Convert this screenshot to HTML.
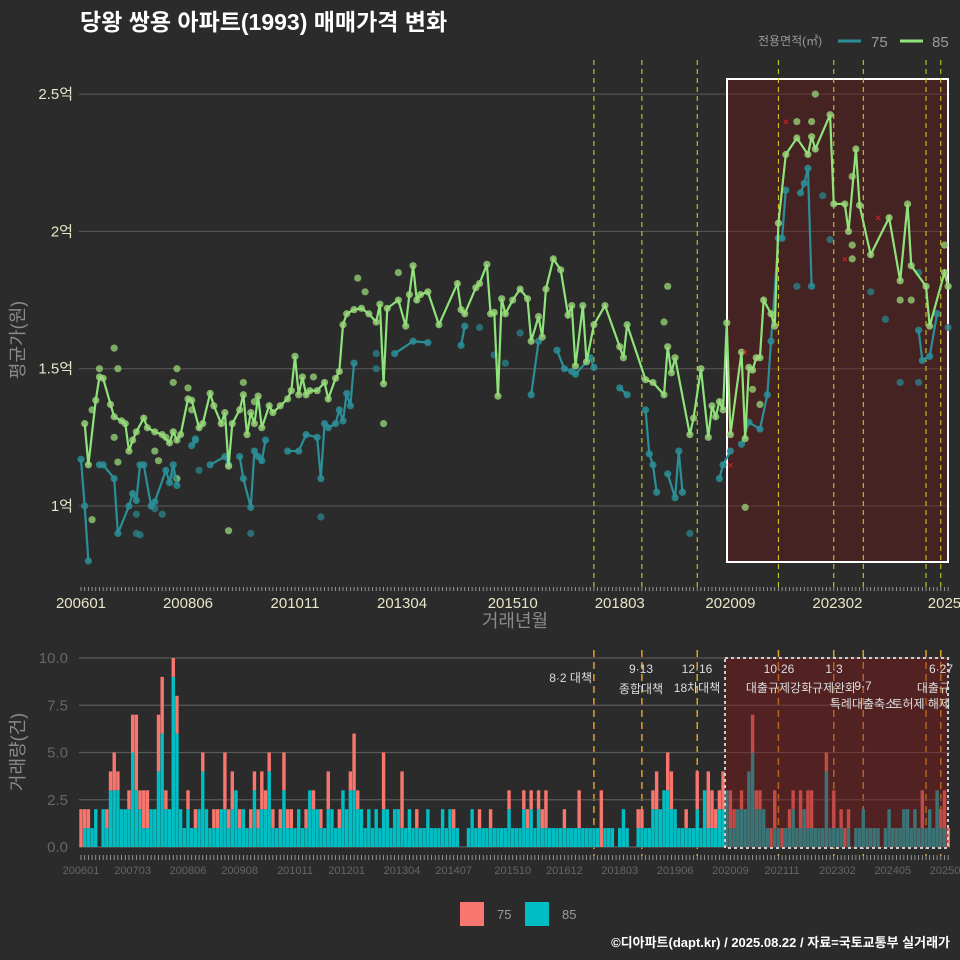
<!DOCTYPE html>
<html><head><meta charset="utf-8">
<style>
body{margin:0;background:#2b2b2b;}
svg{display:block;font-family:"Liberation Sans","Noto Sans CJK KR",sans-serif;}
</style></head>
<body>
<svg id="chart" width="960" height="960" viewBox="0 0 960 960" xmlns="http://www.w3.org/2000/svg">
<rect width="960" height="960" fill="#2b2b2b"/>
<text x="80" y="30" fill="#ffffff" font-size="23" font-weight="bold">당왕 쌍용 아파트(1993) 매매가격 변화</text>
<g>
<text x="758" y="45" fill="#9a9a9a" font-size="12">전용면적(㎡)</text>
<line x1="838" y1="41" x2="861" y2="41" stroke="#2b8f98" stroke-width="3"/>
<text x="871" y="47" fill="#9a9a9a" font-size="15">75</text>
<line x1="900" y1="41" x2="923" y2="41" stroke="#8ee47a" stroke-width="3"/>
<text x="932" y="47" fill="#9a9a9a" font-size="15">85</text>
</g>
<g id="topPanel"></g>
<g id="botPanel"></g>
<text x="515" y="627" fill="#8a8a8a" font-size="18" text-anchor="middle">거래년월</text>
<text x="0" y="0" transform="translate(24,340) rotate(-90)" fill="#8a8a8a" font-size="18" text-anchor="middle">평균가(원)</text>
<text x="0" y="0" transform="translate(24,752) rotate(-90)" fill="#8a8a8a" font-size="18" text-anchor="middle">거래량(건)</text>
<g>
<rect x="460" y="902" width="24" height="24" fill="#f8766d"/>
<text x="497" y="919" fill="#9a9a9a" font-size="13">75</text>
<rect x="525" y="902" width="24" height="24" fill="#00bfc4"/>
<text x="562" y="919" fill="#9a9a9a" font-size="13">85</text>
</g>
<text x="950" y="947" fill="#ffffff" font-size="13" font-weight="bold" text-anchor="end">©디아파트(dapt.kr) / 2025.08.22 / 자료=국토교통부 실거래가</text>
</svg>
<script>
const months = 236;
const xLabels = ["200601","200806","201011","201304","201510","201803","202009","202302","2025"];
const xLabelIdx = [0,29,58,87,117,146,176,205,234];
const yTicks = [1,1.5,2,2.5];
const yTickLabels = ["1억","1.5억","2억","2.5억"];
const policyIdx = [139,152,167,189,204,212,229,233];
const line85 = [[1,1.30],[2,1.15],[4,1.385],[5,1.47],[6,1.465],[8,1.37],[9,1.325],[11,1.31],[12,1.30],[13,1.20],[14,1.24],[15,1.27],[17,1.32],[18,1.285],[20,1.27],[22,1.26],[24,1.23],[25,1.27],[26,1.24],[27,1.26],[29,1.39],[30,1.385],[32,1.285],[33,1.30],[35,1.41],[36,1.365],[38,1.30],[39,1.34],[40,1.145],[41,1.30],[43,1.35],[44,1.405],[45,1.26],[46,1.34],[47,1.30],[48,1.40],[49,1.285],[51,1.365],[52,1.34],[54,1.365],[56,1.39],[57,1.42],[58,1.545],[59,1.405],[60,1.47],[61,1.405],[62,1.42],[64,1.42],[66,1.45],[67,1.39],[69,1.465],[70,1.49],[71,1.66],[72,1.70],[74,1.715],[76,1.72],[78,1.70],[80,1.67],[81,1.735],[82,1.445],[83,1.72],[86,1.75],[88,1.655],[89,1.77],[90,1.875],[91,1.75],[92,1.77],[94,1.78],[97,1.66],[102,1.81],[103,1.715],[104,1.70],[107,1.795],[108,1.81],[110,1.88],[111,1.70],[112,1.705],[113,1.40],[114,1.755],[115,1.70],[117,1.75],[119,1.79],[121,1.755],[122,1.60],[124,1.69],[125,1.615],[126,1.79],[128,1.90],[130,1.86],[132,1.695],[133,1.73],[134,1.51],[136,1.73],[137,1.525],[139,1.66],[142,1.73],[146,1.58],[147,1.54],[148,1.66],[153,1.46],[155,1.45],[158,1.405],[159,1.58],[160,1.485],[161,1.54],[165,1.26],[166,1.32],[168,1.50],[170,1.25],[171,1.365],[172,1.325],[173,1.38],[174,1.35],[175,1.667],[176,1.26],[179,1.56],[180,1.245],[181,1.505],[182,1.495],[183,1.54],[184,1.54],[185,1.75],[187,1.70],[188,1.655],[189,2.03],[191,2.28],[194,2.34],[197,2.28],[198,2.345],[199,2.30],[203,2.425],[204,2.10],[207,2.10],[208,2.0],[210,2.30],[211,2.095],[214,1.915],[219,2.05],[222,1.82],[224,2.10],[225,1.875],[229,1.80],[230,1.655],[234,1.85],[235,1.80]];
const line75 = [[[0,1.17],[1,1.0],[2,0.80]],[[5,1.15],[6,1.15],[9,1.10],[10,0.90],[13,1.0],[14,1.045],[15,1.02],[16,1.15],[17,1.15],[19,1.0],[20,1.015],[23,1.13],[24,1.085],[25,1.15],[26,1.075]],[[30,1.22],[31,1.24]],[[35,1.15],[39,1.18],[40,1.15]],[[43,1.18],[44,1.10],[46,0.995],[47,1.20],[48,1.18],[49,1.165],[50,1.24]],[[56,1.20],[59,1.20],[61,1.26],[64,1.25],[65,1.10],[66,1.30],[67,1.285],[69,1.30],[70,1.35],[71,1.31],[72,1.41],[73,1.365],[74,1.52]],[[85,1.555],[90,1.60],[94,1.595]],[[103,1.585],[104,1.655]],[[122,1.405],[124,1.60]],[[129,1.567],[131,1.50],[133,1.49],[134,1.48],[138,1.54],[139,1.505]],[[146,1.43],[148,1.405]],[[153,1.35],[154,1.19],[155,1.15],[156,1.05]],[[159,1.117],[161,1.03],[162,1.20],[163,1.05]],[[173,1.10],[174,1.15],[176,1.20]],[[179,1.225],[181,1.305],[184,1.28],[186,1.405],[187,1.60],[189,1.975],[190,1.975],[191,2.15]],[[195,2.14],[196,2.175],[197,2.23],[198,1.80]],[[227,1.64],[228,1.53],[230,1.545],[232,1.70]]];
const dots85 = [[3,1.35],[3,0.95],[9,1.575],[10,1.50],[5,1.50],[10,1.16],[9,1.25],[26,1.50],[25,1.45],[29,1.43],[44,1.45],[40,0.91],[20,1.20],[21,1.165],[26,1.10],[82,1.30],[199,2.50],[194,2.40],[198,2.40],[180,0.995],[159,1.80],[209,2.20],[209,1.95],[209,1.90],[234,1.95],[222,1.75],[225,1.75],[158,1.67],[184,1.37],[182,1.425],[30,1.35],[23,1.25],[75,1.83],[77,1.78],[86,1.85],[63,1.47],[47,1.38]];
const dots75 = [[46,0.90],[65,0.96],[15,0.90],[16,0.895],[15,0.97],[22,0.97],[31,1.245],[32,1.13],[80,1.555],[80,1.50],[165,0.90],[203,1.97],[194,1.80],[201,2.13],[214,1.78],[218,1.68],[222,1.45],[227,1.45],[227,1.85],[235,1.65],[119,1.63],[108,1.65],[112,1.55],[115,1.52],[20,0.99],[25,1.11]];
const marksX = [[176,1.15],[191,2.40],[207,1.90],[216,2.05],[180,1.56]];
const vol85 = [0,1,1,1,2,0,2,1,3,3,3,2, 2,2,5,3,2,1,1,2,2,4,6,2, 2,9,6,2,1,2,1,1,2,4,2,1, 1,1,2,2,1,2,3,1,2,1,1,3, 1,2,2,4,1,1,1,3,1,1,1,2, 1,1,3,2,2,1,1,2,2,1,1,3, 2,3,3,2,2,1,2,1,2,1,2,2, 1,2,2,1,1,2,1,1,1,1,2,1, 1,1,2,1,2,1,1,0,0,1,2,1, 1,1,1,1,1,1,1,1,2,1,1,1, 2,1,2,1,2,1,1,1,1,1,1,1, 1,1,1,1,1,1,1,1,1,0,1,1, 1,0,1,2,1,0,0,1,1,1,1,2, 2,2,3,3,2,2,1,1,1,1,1,2, 1,3,1,1,1,2,2,3,1,1,2,2, 2,4,5,2,2,2,1,0,1,1,0,1, 1,2,1,1,2,1,1,1,1,1,4,1, 1,1,1,0,1,0,1,1,2,1,1,1, 1,0,1,2,1,1,1,2,2,1,2,1, 1,1,2,1,3,1,1,0];
const vol75 = [2,1,1,0,0,0,0,1,1,2,1,0, 0,1,2,4,1,2,2,0,0,3,3,1, 0,1,2,0,0,1,0,1,0,1,0,0, 1,1,0,3,1,2,0,1,0,0,1,1, 1,2,1,1,1,0,1,2,1,1,0,0, 0,1,0,1,0,1,0,2,0,0,1,0, 0,1,3,1,0,0,0,0,0,0,3,0, 0,0,0,3,0,0,0,1,0,0,0,0, 0,0,0,0,0,1,0,0,0,0,0,0, 1,0,0,1,0,0,0,0,1,0,0,0, 1,1,1,0,1,1,2,0,0,0,0,1, 0,0,0,2,0,0,0,0,0,3,0,0, 0,0,0,0,0,0,0,1,1,0,0,1, 2,0,0,2,2,0,0,0,1,0,0,2, 0,0,3,2,1,1,2,0,2,1,0,1, 0,0,2,1,1,0,0,1,2,0,1,0, 1,1,0,2,0,2,2,0,0,0,1,0, 2,0,1,1,1,0,0,0,0,0,0,0, 0,0,0,0,0,0,0,0,0,0,0,0, 2,0,0,0,0,1,2,1];
const volTicks = [0,2.5,5,7.5,10];
const volTickLabels = ["0.0","2.5","5.0","7.5","10.0"];
const botLabels = ["200601","200703","200806","200908","201011","201201","201304","201407","201510","201612","201803","201906","202009","202111","202302","202405","202508"];
const botLabelIdx = [0,14,29,43,58,72,87,101,117,131,146,161,176,190,205,220,235];

const NS="http://www.w3.org/2000/svg";
function mk(parent,tag,attrs){const e=document.createElementNS(NS,tag);for(const k in attrs)e.setAttribute(k,attrs[k]);parent.appendChild(e);return e;}
const xT=i=>81+i*3.69;
const yT=v=>506-(v-1)*274.6;
const yB=c=>847-c*18.9;
const topG=document.getElementById('topPanel'), botG=document.getElementById('botPanel');

yTicks.forEach((t,k)=>{
 const g=mk(topG,'line',{x1:79,x2:950,y1:yT(t),y2:yT(t),stroke:'#5a5a5a','stroke-width':1});
 
 
 const tx=mk(topG,'text',{x:73,y:yT(t)+5,fill:'#e8e6c8','font-size':15,'text-anchor':'end'});
 tx.textContent=yTickLabels[k];
 
 
});
const sh=mk(topG,'rect',{x:727,y:79,width:221,height:483,fill:'rgba(110,25,25,0.4)',stroke:'#ffffff','stroke-width':2});


policyIdx.forEach(p=>{
 const l=mk(topG,'line',{x1:xT(p),x2:xT(p),y1:60,y2:588,stroke:'#d8d820','stroke-width':1,'stroke-dasharray':'5,4'});
 
 
 const l2=mk(botG,'line',{x1:xT(p),x2:xT(p),y1:650,y2:856,stroke:'#e0a020','stroke-width':1.5,'stroke-dasharray':'7,5'});
 
 
});
for(let i=0;i<months;i++){
 const t=mk(topG,'line',{x1:xT(i),x2:xT(i),y1:587,y2:591,stroke:'#aaaaaa','stroke-width':0.8});
 
 
 const t2=mk(botG,'line',{x1:xT(i),x2:xT(i),y1:855,y2:860,stroke:'#aaaaaa','stroke-width':0.8});
 
 
}
xLabels.forEach((s,k)=>{
 const tx=mk(topG,'text',{x:xT(xLabelIdx[k]),y:608,fill:'#e8e6c8','font-size':15,'text-anchor':'middle'});
 tx.textContent=s;
 
 
});
dots85.forEach(d=>{
 const c=mk(topG,'circle',{cx:xT(d[0]),cy:yT(d[1]),r:3.6,fill:'#9ad87a','fill-opacity':0.75});
 
 
});
dots75.forEach(d=>{
 const c=mk(topG,'circle',{cx:xT(d[0]),cy:yT(d[1]),r:3.6,fill:'#2a7f86','fill-opacity':0.8});
 
 
});
line75.forEach(seg=>{
 const p=mk(topG,'polyline',{points:seg.map(d=>xT(d[0])+','+yT(d[1])).join(' '),fill:'none',stroke:'#2b8f98','stroke-width':2.2});
 
 
 seg.forEach(d=>{
  const c=mk(topG,'circle',{cx:xT(d[0]),cy:yT(d[1]),r:3.6,fill:'#2b8f98','fill-opacity':0.85});
  
  
 });
});
const p85=mk(topG,'polyline',{points:line85.map(d=>xT(d[0])+','+yT(d[1])).join(' '),fill:'none',stroke:'#8ee47a','stroke-width':2.2});


line85.forEach(d=>{
 const c=mk(topG,'circle',{cx:xT(d[0]),cy:yT(d[1]),r:3.6,fill:'#9ad87a','fill-opacity':0.8});
 
 
});
marksX.forEach(d=>{
 const t=mk(topG,'text',{x:xT(d[0]),y:yT(d[1])+4,fill:'#ee2020','font-size':11,'text-anchor':'middle'});
 t.textContent='×';
 
 
});

volTicks.forEach((t,k)=>{
 const g=mk(botG,'line',{x1:79,x2:950,y1:yB(t),y2:yB(t),stroke:'#5a5a5a','stroke-width':1.2});
 
 
 const tx=mk(botG,'text',{x:68,y:yB(t)+5,fill:'#666666','font-size':15,'text-anchor':'end'});
 tx.textContent=volTickLabels[k];
 
 
});
for(let i=0;i<months;i++){
 const a=vol85[i]||0, b=vol75[i]||0;
 if(a>0){const r=mk(botG,'rect',{x:xT(i)-1.7,y:yB(a),width:3.4,height:yB(0)-yB(a),fill:'#00bfc4'});
  
  }
 if(b>0){const r=mk(botG,'rect',{x:xT(i)-1.7,y:yB(a+b),width:3.4,height:yB(a)-yB(a+b),fill:'#f8766d'});
  
  }
}
const sb=mk(botG,'rect',{x:725,y:658,width:223,height:190,fill:'rgba(130,25,25,0.45)',stroke:'#cccccc','stroke-width':2,'stroke-dasharray':'3,3'});


botLabels.forEach((s,k)=>{
 const tx=mk(botG,'text',{x:xT(botLabelIdx[k]),y:874,fill:'#666666','font-size':11,'text-anchor':'middle'});
 tx.textContent=s;
 
 
});
const notes=[["8·2 대책",592,682,"end"],["9·13",641,673,"middle"],["종합대책",641,693,"middle"],["12·16",697,673,"middle"],["18차대책",697,692,"middle"],["10·26",779,673,"middle"],["대출규제강화",779,692,"middle"],["1·3",834,673,"middle"],["규제완화",834,692,"middle"],["9·7",863,690,"middle"],["특례대출축소",863,708,"middle"],["6·27",941,673,"middle"],["대출규",950,692,"end"],["토허제 해제",950,708,"end"]];
notes.forEach(n=>{
 const tx=mk(botG,'text',{x:n[1],y:n[2],fill:'#dddddd','font-size':12,'text-anchor':n[3]});
 tx.textContent=n[0];
 
 
});
</script>
</body></html>
